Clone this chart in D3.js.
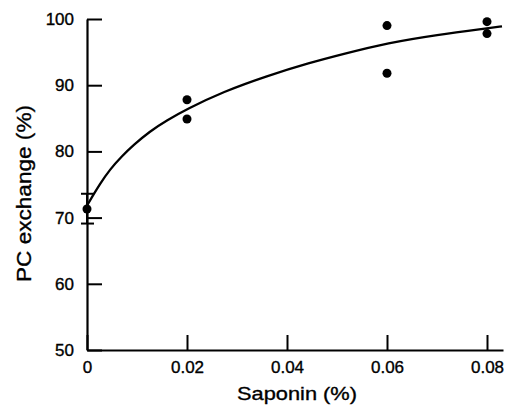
<!DOCTYPE html>
<html>
<head>
<meta charset="utf-8">
<script src="https://cdn.jsdelivr.net/npm/d3@7"></script>
<style>
  html, body { margin: 0; padding: 0; background: #fff; }
  svg { display: block; }
  text { font-family: "Liberation Sans", Arial, Helvetica, sans-serif; fill: #000; }
</style>
</head>
<body>
<div id="chart"></div>
<script>
// ---- data ----
const xTickValues = [0, 0.02, 0.04, 0.06, 0.08];
const xTickLabels = ["0", "0.02", "0.04", "0.06", "0.08"];
const yTickValues = [50, 60, 70, 80, 90, 100];
const yTickLabels = ["50", "60", "70", "80", "90", "100"];

const pointSaponin = [0, 0.02, 0.02, 0.06, 0.06, 0.08, 0.08];
const pointExchange = [71.3, 87.8, 84.9, 99.0, 91.8, 99.6, 97.8];

// error bar at saponin = 0
const errSaponin = [0];
const errLow = [69.1];
const errHigh = [73.6];

// fitted curve
const curveSaponin = [0, 0.001, 0.0025, 0.0046, 0.007, 0.0092, 0.0125, 0.016, 0.020, 0.0272, 0.036, 0.0446, 0.0512, 0.0602, 0.070, 0.080, 0.083];
const curveExchange = [71.8, 73.1, 75.0, 77.3, 79.3, 80.9, 83.0, 84.7, 86.4, 89.0, 91.4, 93.4, 94.7, 96.4, 97.6, 98.6, 98.9];

const xLabel = "Saponin (%)";
const yLabel = "PC exchange (%)";

// ---- layout ----
const W = 511, H = 405;
const svg = d3.select("#chart").append("svg").attr("width", W).attr("height", H);

const x = d3.scaleLinear().domain([0, 0.0832]).range([87, 503]);
const y = d3.scaleLinear().domain([50, 100]).range([350, 19]);

// axes (ticks point inward)
const xAxis = d3.axisBottom(x)
  .tickValues(xTickValues)
  .tickFormat((d, i) => xTickLabels[i])
  .tickSizeInner(-15).tickSizeOuter(0).tickPadding(11);
const yAxis = d3.axisLeft(y)
  .tickValues(yTickValues)
  .tickFormat((d, i) => yTickLabels[i])
  .tickSizeInner(-15).tickSizeOuter(0).tickPadding(13);

const gx = svg.append("g").attr("transform", `translate(0,${y(50)})`).call(xAxis);
const gy = svg.append("g").attr("transform", `translate(${x(0)},0)`).call(yAxis);

[gx, gy].forEach(g => {
  g.selectAll("path.domain").attr("stroke", "#000").attr("stroke-width", 2.2);
  g.selectAll(".tick line").attr("stroke", "#000").attr("stroke-width", 2);
  g.selectAll(".tick text")
    .attr("font-family", "Liberation Sans, Arial, sans-serif")
    .attr("font-size", 17).attr("fill", "#000")
    .attr("stroke", "#000").attr("stroke-width", 0.35);
});

// error bar
const eb = svg.append("g");
errSaponin.forEach((s, i) => {
  eb.append("line").attr("x1", x(s)).attr("x2", x(s))
    .attr("y1", y(errLow[i])).attr("y2", y(errHigh[i]))
    .attr("stroke", "#000").attr("stroke-width", 2);
  [errLow[i], errHigh[i]].forEach(v => {
    eb.append("line").attr("x1", x(s) - 6).attr("x2", x(s) + 7)
      .attr("y1", y(v)).attr("y2", y(v))
      .attr("stroke", "#000").attr("stroke-width", 2);
  });
});

// fitted curve
const curveData = curveSaponin.map((s, i) => [s, curveExchange[i]]);
svg.append("path")
  .datum(curveData)
  .attr("fill", "none").attr("stroke", "#000").attr("stroke-width", 2.3)
  .attr("d", d3.line().x(d => x(d[0])).y(d => y(d[1])).curve(d3.curveBasis));

// points
svg.append("g").selectAll("circle")
  .data(pointSaponin.map((s, i) => [s, pointExchange[i]]))
  .join("circle")
  .attr("cx", d => x(d[0])).attr("cy", d => y(d[1]))
  .attr("r", 4.5).attr("fill", "#000");

// axis titles
svg.append("text")
  .attr("x", 297).attr("y", 400)
  .attr("text-anchor", "middle")
  .attr("font-size", 19)
  .attr("stroke", "#000").attr("stroke-width", 0.35)
  .attr("textLength", 120).attr("lengthAdjust", "spacingAndGlyphs")
  .text(xLabel);

svg.append("text")
  .attr("transform", "translate(31,193.5) rotate(-90)")
  .attr("text-anchor", "middle")
  .attr("font-size", 21)
  .attr("stroke", "#000").attr("stroke-width", 0.35)
  .attr("textLength", 177).attr("lengthAdjust", "spacingAndGlyphs")
  .text(yLabel);
</script>
</body>
</html>
